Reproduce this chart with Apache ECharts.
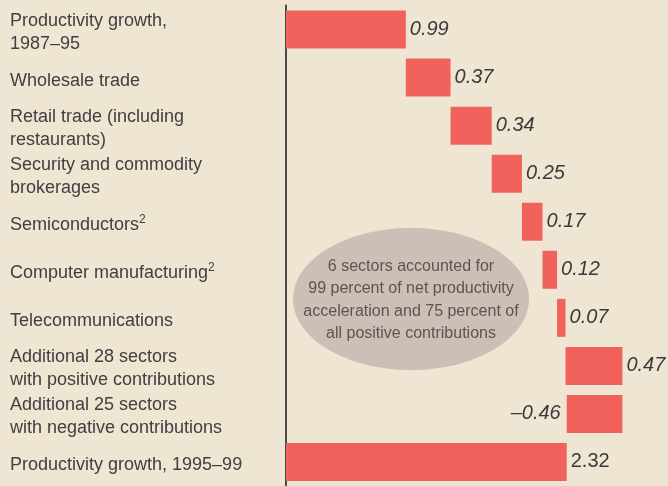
<!DOCTYPE html>
<html>
<head>
<meta charset="utf-8">
<script src="https://cdn.jsdelivr.net/npm/echarts@6/dist/echarts.min.js"></script>
<style>
  html, body { margin: 0; padding: 0; background: #eee6d3; }
  #chart { width: 668px; height: 486px; }
</style>
</head>
<body>
<div id="chart"></div>
<script>
// row labels, top to bottom
const categories = [
  'Productivity growth,\n1987–95',
  'Wholesale trade',
  'Retail trade (including\nrestaurants)',
  'Security and commodity\nbrokerages',
  'Semiconductors',
  'Computer manufacturing',
  'Telecommunications',
  'Additional 28 sectors\nwith positive contributions',
  'Additional 25 sectors\nwith negative contributions',
  'Productivity growth, 1995–99'
]
// footnote marks after some labels
const notes = ['', '', '', '', '2', '2', '', '', '', '']
// contribution of each row (first and last are totals)
const changes = [0.99, 0.37, 0.34, 0.25, 0.17, 0.12, 0.07, 0.47, -0.46, 2.32]
const totalRows = [0, 9]

const calloutLines = [
  '6 sectors accounted for',
  '99 percent of net productivity',
  'acceleration and 75 percent of',
  'all positive contributions'
]

// build invisible bases for the waterfall
const bases = []
const heights = []
let running = 0
changes.forEach(function (v, i) {
  if (totalRows.indexOf(i) >= 0) {
    bases.push(0)
    heights.push(v)
    running = v
  } else if (v >= 0) {
    bases.push(+running.toFixed(2))
    heights.push(v)
    running += v
  } else {
    running += v
    bases.push(+running.toFixed(2))
    heights.push(-v)
  }
})

function fmt (v) {
  return v < 0 ? '–' + Math.abs(v).toFixed(2) : v.toFixed(2)
}

const barData = heights.map(function (h, i) {
  const item = { value: h }
  if (changes[i] < 0) {
    item.label = { position: 'left', distance: 6 }
  }
  if (i === changes.length - 1) {
    item.label = { fontStyle: 'normal' }
  }
  return item
})

const font = '"Liberation Sans", Arial, sans-serif'

const chart = echarts.init(document.getElementById('chart'))
chart.setOption({
  backgroundColor: '#eee6d3',
  animation: false,
  grid: { left: 286, top: 5.5, width: 363, height: 490 },
  xAxis: {
    type: 'value',
    min: 0,
    max: 3,
    show: false
  },
  yAxis: {
    type: 'category',
    inverse: true,
    data: categories,
    axisLine: { show: true, lineStyle: { color: '#4a4a4a', width: 2 } },
    axisTick: { show: false },
    axisLabel: {
      align: 'left',
      margin: 276,
      padding: [6, 0, 0, 0],
      formatter: function (val, idx) {
        let s = '{t|' + val + '}'
        if (notes[idx]) s += '{s|' + notes[idx] + '}'
        return s
      },
      rich: {
        t: { fontFamily: font, fontSize: 18, lineHeight: 23, color: '#404040' },
        s: { fontFamily: font, fontSize: 12, lineHeight: 12, color: '#404040', verticalAlign: 'top' }
      }
    }
  },
  series: [
    {
      type: 'bar',
      stack: 'w',
      barWidth: 38,
      itemStyle: { color: 'transparent' },
      emphasis: { disabled: true },
      data: bases
    },
    {
      type: 'bar',
      stack: 'w',
      barWidth: 38,
      itemStyle: { color: '#f2625c' },
      label: {
        show: true,
        position: 'right',
        distance: 4,
        padding: [4, 0, 0, 0],
        fontFamily: font,
        fontSize: 20,
        fontStyle: 'italic',
        color: '#3a3a3a',
        formatter: function (p) {
          return fmt(changes[p.dataIndex])
        }
      },
      data: barData
    }
  ],
  graphic: [
    {
      type: 'ellipse',
      shape: { cx: 411, cy: 299, rx: 118, ry: 71 },
      style: { fill: '#cdbfb5' },
      z: 0
    },
    {
      type: 'text',
      x: 411,
      y: 300,
      z: 1,
      style: {
        text: calloutLines.join('\n'),
        fontFamily: font,
        fontSize: 16,
        lineHeight: 22.5,
        fill: '#5a5454',
        align: 'center',
        verticalAlign: 'middle'
      }
    }
  ]
})
</script>
</body>
</html>
